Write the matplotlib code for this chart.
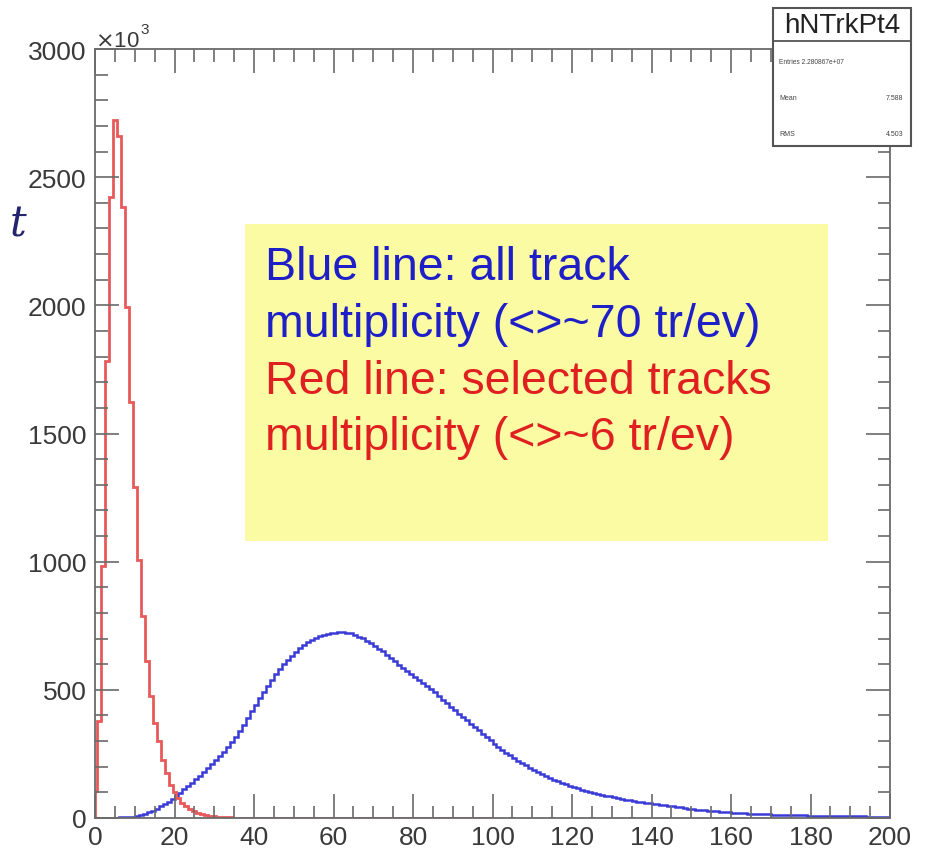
import numpy as np
import matplotlib
matplotlib.use("Agg")
import matplotlib.pyplot as plt
from matplotlib.patches import Rectangle
from matplotlib.ticker import MultipleLocator

# ---- data (counts in units of 10^3) ----
# red: selected tracks multiplicity, bins centred on integers 0..99 (first bin clipped at 0)
red_counts = [105, 378, 985, 1784, 2423, 2723, 2661, 2384, 1994, 1624,
              1293, 1006, 787, 611, 475, 370, 300, 226, 175, 129,
              100, 78, 60, 46, 35, 27, 20, 15, 11, 8,
              6, 4, 3, 2, 2, 1, 1, 0.5, 0.5, 0.3,
              0, 0, 0, 0, 0, 0, 0, 0, 0, 0,
              0, 0, 0, 0, 0, 0, 0, 0, 0, 0,
              0, 0, 0, 0, 0, 0, 0, 0, 0, 0,
              0, 0, 0, 0, 0, 0, 0, 0, 0, 0,
              0, 0, 0, 0, 0, 0, 0, 0, 0, 0,
              0, 0, 0, 0, 0, 0, 0, 0, 0, 0,
              0]
# blue: all track multiplicity, unit bins 0..200
blue_counts = [0, 0, 0, 0, 0, 1, 2, 3, 4, 5,
               7, 11, 16, 22, 29, 36, 45, 54, 64, 75,
               87, 99, 112, 125, 138, 151, 165, 179, 194, 209,
               225, 241, 258, 276, 296, 317, 340, 364, 390, 416,
               442, 467, 492, 516, 539, 560, 580, 599, 617, 633,
               648, 662, 675, 686, 696, 704, 710, 715, 719, 721,
               723, 724, 724, 723, 720, 714, 708, 701, 692, 682,
               672, 661, 650, 637, 624, 611, 598, 585, 573, 561,
               550, 538, 526, 514, 502, 490, 476, 462, 448, 434,
               420, 407, 394, 381, 368, 355, 342, 329, 316, 303,
               290, 278, 266, 255, 244, 233, 223, 214, 205, 196,
               187, 179, 171, 163, 156, 149, 143, 137, 131, 126,
               121, 116, 111, 106, 102, 98, 94, 90, 87, 84,
               81, 78, 75, 72, 69, 66, 63, 61, 59, 57,
               55, 53, 51, 49, 47, 45, 43, 41, 39, 37,
               35, 33, 32, 30, 29, 27, 26, 25, 23, 22,
               21, 20, 19, 18, 17, 17, 16, 15, 15, 14,
               13, 13, 12, 12, 11, 11, 10, 10, 10, 9,
               9, 9, 8, 8, 8, 7, 7, 7, 7, 6,
               6, 6, 6, 6, 5, 5, 5, 5, 5, 5]

x_ticks = [0, 20, 40, 60, 80, 100, 120, 140, 160, 180, 200]
y_ticks = [0, 500, 1000, 1500, 2000, 2500, 3000]

stats_title = "hNTrkPt4"
stats_rows = [("Entries", "2.280867e+07"), ("Mean", "7.588"), ("RMS", "4.503")]

note_lines = [("Blue line: all track", "#1f1fc8"),
              ("multiplicity (<>~70 tr/ev)", "#1f1fc8"),
              ("Red line: selected tracks", "#e02020"),
              ("multiplicity (<>~6 tr/ev)", "#e02020")]

# ---- figure ----
plt.rcParams['font.family'] = ['Liberation Sans', 'DejaVu Sans']
W, H = 926, 853
fig = plt.figure(figsize=(W / 100, H / 100), dpi=100)
fig.patch.set_facecolor("white")

L, R, T, B = 95, 890, 50, 819
ax = fig.add_axes([L / W, 1 - B / H, (R - L) / W, (B - T) / H])

red_edges = np.concatenate([[0.0], np.arange(0.5, 100.0, 1.0), [100.0]])
blue_edges = np.arange(0, 201, 1.0)

ax.stairs(blue_counts, blue_edges, color="#3a3ad6", lw=1.8, baseline=0)
ax.stairs(red_counts, red_edges, color="#e85a5a", lw=2.0, baseline=0)

ax.set_xlim(0, 200)
ax.set_ylim(0, 3000)
ax.xaxis.set_major_locator(MultipleLocator(20))
ax.xaxis.set_minor_locator(MultipleLocator(5))
ax.yaxis.set_major_locator(MultipleLocator(500))
ax.yaxis.set_minor_locator(MultipleLocator(100))
ax.set_xticks(x_ticks)
ax.set_yticks(y_ticks)
ax.set_xticklabels([str(v) for v in x_ticks])
ax.set_yticklabels([str(v) for v in y_ticks])

frame_col = "#6a6a6a"
for s in ax.spines.values():
    s.set_color(frame_col)
    s.set_linewidth(1.3)
ax.tick_params(which="both", direction="in", top=True, right=True,
               color=frame_col, width=1.2, labelcolor="#3a3a3a", labelsize=19)
ax.tick_params(which="major", length=17)
ax.tick_params(which="minor", length=9)
ax.tick_params(axis="y", pad=6)
ax.tick_params(axis="x", pad=5)

# exponent label
fig.text(95 / W, 1 - 47 / H, r"$\times$10", fontsize=16, color="#3a3a3a", va="baseline")
fig.text(140 / W, 1 - 34 / H, "3", fontsize=11, color="#3a3a3a", va="baseline")

# note box
nb_x0, nb_y0, nb_x1, nb_y1 = 245, 225, 828, 542
fig.patches.append(Rectangle((nb_x0 / W, 1 - nb_y1 / H), (nb_x1 - nb_x0) / W, (nb_y1 - nb_y0) / H,
                             transform=fig.transFigure, facecolor="#fbfba4", edgecolor="none", zorder=3))
ys = [268, 325, 382, 438]
for (txt, col), yy in zip(note_lines, ys):
    fig.text(265 / W, 1 - yy / H, txt, fontsize=33.5, color=col, va="center", ha="left", zorder=4)

# stats box
sx0, sy0, sx1, sy1 = 773, 9, 911, 147
fig.patches.append(Rectangle((sx0 / W, 1 - sy1 / H), (sx1 - sx0) / W, (sy1 - sy0) / H,
                             transform=fig.transFigure, facecolor="white", edgecolor="#555555",
                             lw=1.5, zorder=5))
fig.lines.append(plt.Line2D([sx0 / W, sx1 / W], [1 - 42 / H, 1 - 42 / H],
                            transform=fig.transFigure, color="#555555", lw=1.3, zorder=6))
fig.text((sx0 + sx1) / 2 / W, 1 - 26 / H, stats_title, fontsize=20, color="#222222",
         ha="center", va="center", zorder=7)
for (k, v), yy in zip(stats_rows, [62, 98, 135]):
    if k == "Entries":
        fig.text((sx0 + 6) / W, 1 - yy / H, f"{k} {v}", fontsize=4.8, color="#444444",
                 ha="left", va="center", zorder=7)
    else:
        fig.text((sx0 + 6) / W, 1 - yy / H, k, fontsize=5, color="#444444",
                 ha="left", va="center", zorder=7)
        fig.text((sx1 - 8) / W, 1 - yy / H, v, fontsize=5, color="#444444",
                 ha="right", va="center", zorder=7)

# stray handwritten mark from the slide
fig.text(10 / W, 1 - 225 / H, "t", fontsize=30, color="#23236e", family="DejaVu Serif",
         style="italic", ha="left", va="center")

fig.savefig("out.png", dpi=100, facecolor="white")
